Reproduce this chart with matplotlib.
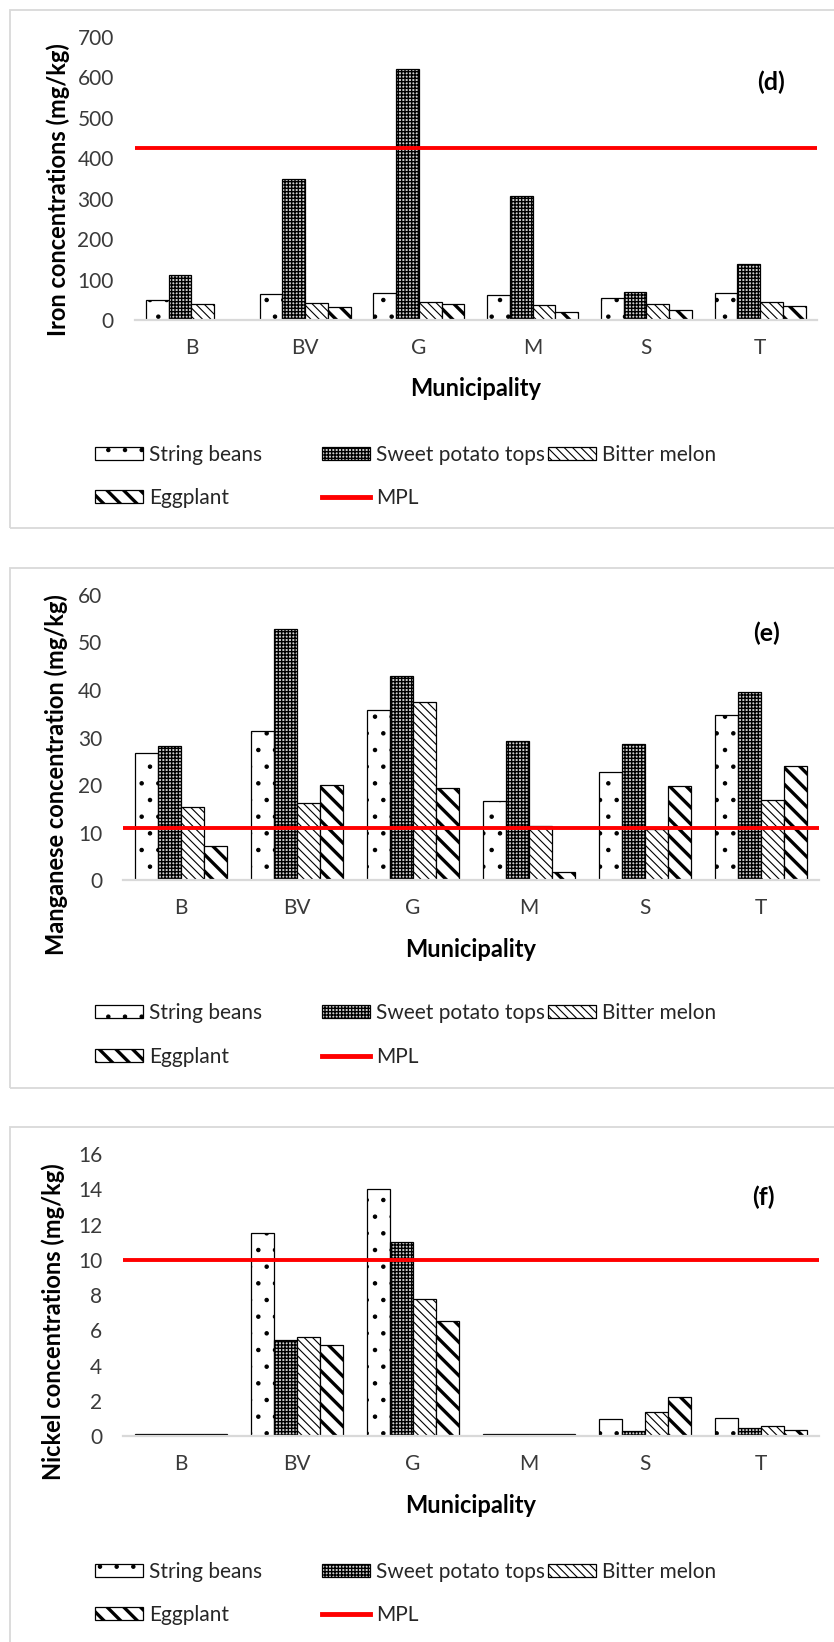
import matplotlib
matplotlib.use('Agg')
import matplotlib.pyplot as plt
from matplotlib.patches import Rectangle, Patch
from matplotlib.lines import Line2D
import numpy as np

plt.rcParams['font.family'] = ['Lato', 'DejaVu Sans']

# ---------------- data ----------------
municipalities = ['B', 'BV', 'G', 'M', 'S', 'T']
series_names = ['String beans', 'Sweet potato tops', 'Bitter melon', 'Eggplant']

fe_string_beans = [50, 64, 67, 62, 55, 67]
fe_sweet_potato = [111, 348, 622, 307, 69, 138]
fe_bitter_melon = [40, 43, 45, 38, 40, 45]
fe_eggplant = [0, 31, 40, 19, 25, 35]
fe_mpl = 425

mn_string_beans = [26.7, 31.4, 35.8, 16.6, 22.7, 34.8]
mn_sweet_potato = [28.2, 52.8, 42.9, 29.2, 28.7, 39.6]
mn_bitter_melon = [15.3, 16.3, 37.5, 11.4, 10.8, 16.8]
mn_eggplant = [7.2, 20.1, 19.4, 1.6, 19.8, 23.9]
mn_mpl = 10.9

ni_string_beans = [0.1, 11.5, 14.0, 0.1, 0.95, 1.0]
ni_sweet_potato = [0.1, 5.45, 11.0, 0.1, 0.3, 0.44]
ni_bitter_melon = [0.1, 5.6, 7.8, 0.1, 1.35, 0.59]
ni_eggplant = [0.1, 5.15, 6.5, 0.1, 2.2, 0.32]
ni_mpl = 10

# ---------------- styles ----------------
W, H = 834, 1642
styles = [
    dict(facecolor='white', hatch='.', hlw=0.8),
    dict(facecolor='#cfcfcf', hatch='+++++', hlw=1.0),
    dict(facecolor='white', hatch='\\\\\\\\', hlw=0.8),
    dict(facecolor='white', hatch='\\\\', hlw=2.4),
]
TICK_COLOR = '#3a3a3a'
FS = 15
LABEL_FS = 17


def set_hlw(artist, lw):
    if hasattr(artist, 'set_hatch_linewidth'):
        artist.set_hatch_linewidth(lw)


fig = plt.figure(figsize=(W / 100, H / 100), dpi=100)


def fx(px):
    return px / W


def fy(py):
    return 1 - py / H


def draw_panel(box, axis_px, values, mpl_val, ymax, ystep, ylabel, tag,
               ylabel_xy, tag_xy, legend_y):
    # panel border
    top, bottom = box
    fig.add_artist(Rectangle((fx(10), fy(bottom)), fx(840) - fx(10), fy(top) - fy(bottom),
                             transform=fig.transFigure, fill=False,
                             edgecolor='#d9d9d9', linewidth=1.3))
    left, right, y0, ytop = axis_px
    ax = fig.add_axes([fx(left), fy(y0), fx(right) - fx(left), fy(ytop) - fy(y0)])
    x = np.arange(len(municipalities))
    w = 0.2
    for i, (vals, st) in enumerate(zip(values, styles)):
        with plt.rc_context({'hatch.linewidth': st['hlw']}):
            bars = ax.bar(x + (i - 1.5) * w, vals, w, facecolor=st['facecolor'],
                          edgecolor='black', linewidth=0.9, hatch=st['hatch'],
                          label=series_names[i], zorder=1)
        for b in bars:
            set_hlw(b, st['hlw'])
    ax.axhline(mpl_val, color='#ff0000', linewidth=2.8, zorder=3)
    ax.set_xlim(-0.5, len(municipalities) - 0.5)
    ax.set_ylim(0, ymax)
    ax.set_yticks(np.arange(0, ymax + ystep / 2, ystep))
    ax.set_xticks(x)
    ax.set_xticklabels(municipalities)
    for s in ['left', 'right', 'top']:
        ax.spines[s].set_visible(False)
    ax.spines['bottom'].set_color('#d9d9d9')
    ax.spines['bottom'].set_linewidth(1.6)
    ax.spines['bottom'].set_zorder(2.5)
    ax.tick_params(axis='both', length=0, labelsize=FS, colors=TICK_COLOR)
    ax.tick_params(axis='y', pad=15)
    ax.tick_params(axis='x', pad=13)
    ax_w = right - left
    ax_h = y0 - ytop
    ax.set_ylabel(ylabel, fontsize=LABEL_FS, fontweight='bold', color='black')
    ax.yaxis.set_label_coords((ylabel_xy[0] - left) / ax_w, (y0 - ylabel_xy[1]) / ax_h)
    ax.yaxis.label.set_va('center')
    ax.set_xlabel('Municipality', fontsize=LABEL_FS, fontweight='bold', color='black')
    ax.xaxis.set_label_coords(0.5, -69 / ax_h)
    ax.xaxis.label.set_va('center')
    ax.text((tag_xy[0] - left) / ax_w, (y0 - tag_xy[1]) / ax_h, tag, transform=ax.transAxes,
            ha='center', va='center', fontsize=18, fontweight='bold', color='black')

    # legend: Excel style, placed per entry
    labels = series_names + ['MPL']
    pos = [(95, 0), (322, 0), (548, 0), (95, 1), (322, 1)]
    for k, (lab, (lx, row)) in enumerate(zip(labels, pos)):
        if k < 4:
            st = styles[k]
            hlw = st['hlw']
            with plt.rc_context({'hatch.linewidth': hlw}):
                h = Patch(facecolor=st['facecolor'], edgecolor='black', linewidth=0.9,
                          hatch=st['hatch'])
        else:
            hlw = 1.0
            h = Line2D([], [], color='#ff0000', linewidth=3.5)
        with plt.rc_context({'hatch.linewidth': hlw}):
            leg = fig.legend([h], [lab], loc='center left',
                             bbox_to_anchor=(fx(lx), fy(legend_y[row])),
                             bbox_transform=fig.transFigure, frameon=False,
                             fontsize=FS, handlelength=48 / 20.8, handleheight=0.62,
                             handletextpad=0.28, borderpad=0, borderaxespad=0,
                             labelcolor='#262626')
        for ph in leg.get_patches():
            set_hlw(ph, hlw)
    return ax


draw_panel((10, 528), (134.6, 817, 320, 37),
           [fe_string_beans, fe_sweet_potato, fe_bitter_melon, fe_eggplant],
           fe_mpl, 700, 100, 'Iron concentrations (mg/kg)', '(d)',
           (58, 190), (771, 82), (455, 498))

draw_panel((568, 1088), (123, 819, 880, 595),
           [mn_string_beans, mn_sweet_potato, mn_bitter_melon, mn_eggplant],
           mn_mpl, 60, 10, 'Manganese concentration (mg/kg)', '(e)',
           (56, 775), (766, 633), (1013, 1057))

draw_panel((1127, 1660), (123, 819, 1436, 1154),
           [ni_string_beans, ni_sweet_potato, ni_bitter_melon, ni_eggplant],
           ni_mpl, 16, 2, 'Nickel concentrations (mg/kg)', '(f)',
           (53, 1322), (763, 1197), (1572, 1615))

fig.savefig('out.png', dpi=100, facecolor='white')
